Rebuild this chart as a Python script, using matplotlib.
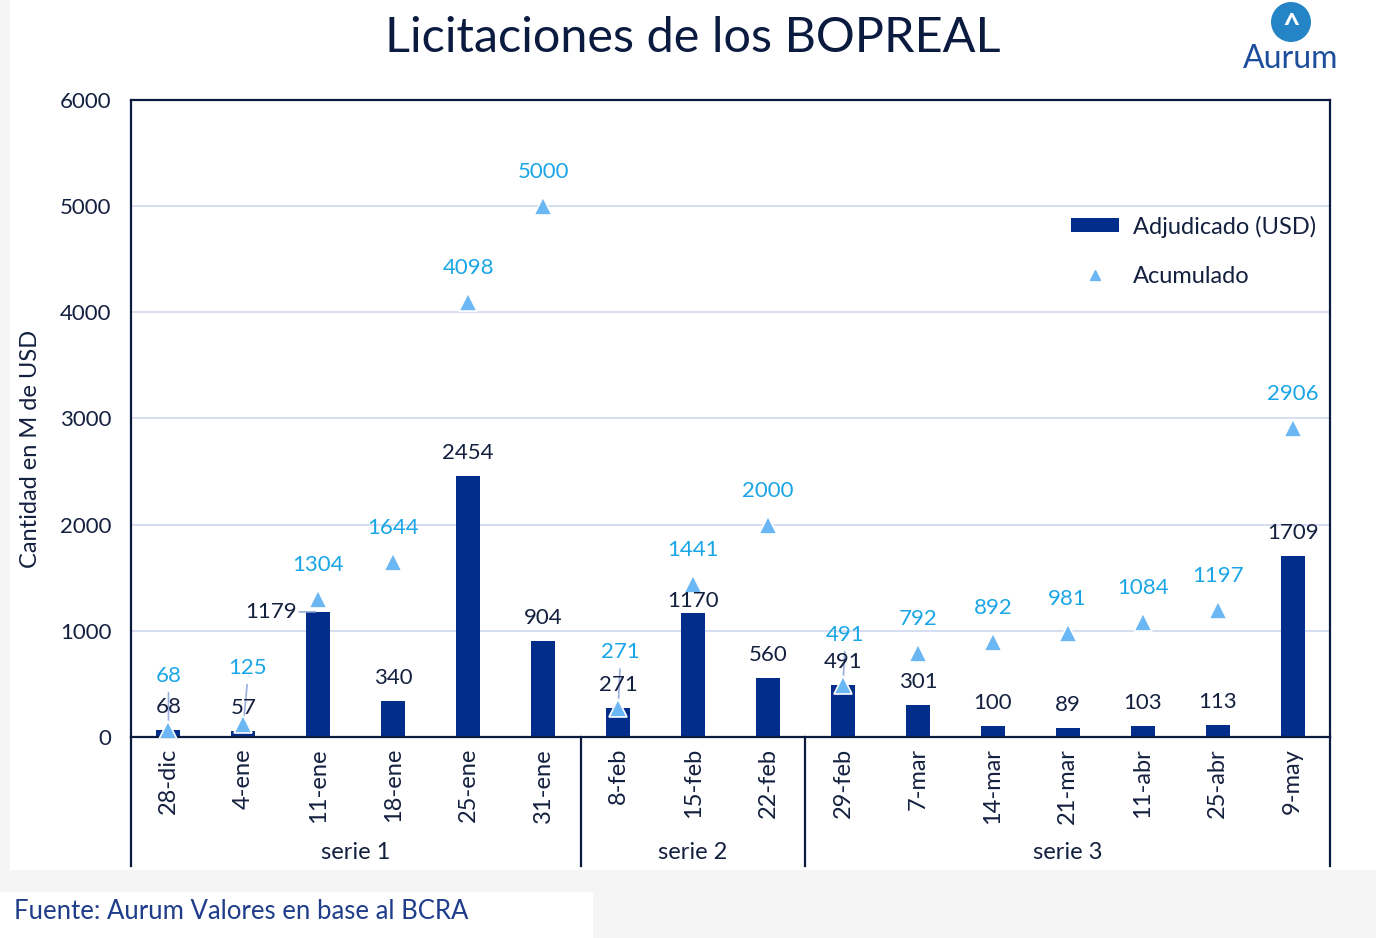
import matplotlib.pyplot as plt
from matplotlib.patches import Rectangle, Ellipse
from matplotlib.lines import Line2D
import numpy as np

plt.rcParams['font.family'] = ['Lato', 'DejaVu Sans']

# data
fechas = ['28-dic', '4-ene', '11-ene', '18-ene', '25-ene', '31-ene',
          '8-feb', '15-feb', '22-feb',
          '29-feb', '7-mar', '14-mar', '21-mar', '11-abr', '25-abr', '9-may']
adjudicado = [68, 57, 1179, 340, 2454, 904, 271, 1170, 560, 491, 301, 100, 89, 103, 113, 1709]
acumulado = [68, 125, 1304, 1644, 4098, 5000, 271, 1441, 2000, 491, 792, 892, 981, 1084, 1197, 2906]
series = ['serie 1', 'serie 2', 'serie 3']
series_len = [6, 3, 7]

# label offsets in pixels (dx, dy), hand placed like the excel original
acum_off = [(0, 54), (4, 56), (0, 34), (0, 34), (0, 34), (0, 34), (2, 56), (0, 34), (0, 34),
            (2, 50), (0, 34), (0, 34), (0, 34), (0, 34), (0, 34), (0, 34)]
adj_off = [(0, 23), (0, 23), (-47, 0), (0, 23), (0, 23), (0, 23), (0, 23), (0, 12), (0, 23),
           (0, 23), (0, 23), (0, 23), (0, 23), (0, 23), (0, 23), (0, 23)]

BAR = '#032d8a'
TRI = '#6bb7f3'
ACUM_TXT = '#1aa6e6'
DARK = '#14203f'
NAVY = '#0b1a3f'

fig = plt.figure(figsize=(13.76, 9.38), dpi=100, facecolor='#f5f5f6')
W, H = 1376, 938
fig.patches.append(Rectangle((10 / W, 1 - 870 / H), 1 - 10 / W, 870 / H,
                             transform=fig.transFigure, facecolor='white', edgecolor='none', zorder=-10))
fig.patches.append(Rectangle((0, 0), 593 / W, 46 / H,
                             transform=fig.transFigure, facecolor='white', edgecolor='none', zorder=-10))

ax = fig.add_axes([131 / W, 1 - 737 / H, 1199 / W, 637 / H])
x = np.arange(len(fechas))

bars = ax.bar(x, adjudicado, width=0.32, color=BAR, zorder=2)
ax.plot(x, acumulado, linestyle='none', marker='^', markersize=13, color=TRI,
        markeredgecolor='white', markeredgewidth=1.2, zorder=3)

px = 0.72
for i in range(len(x)):
    dx, dy = adj_off[i]
    ax.annotate(str(adjudicado[i]), (x[i], adjudicado[i]), xytext=(dx * px, dy * px),
                textcoords='offset points', ha='center', va='center', fontsize=16, color=DARK, zorder=4)
    dx, dy = acum_off[i]
    ax.annotate(str(acumulado[i]), (x[i], acumulado[i]), xytext=(dx * px, dy * px),
                textcoords='offset points', ha='center', va='center', fontsize=16, color=ACUM_TXT, zorder=4)

# leader lines for the crowded labels
for i in [0, 1, 6, 9]:
    dx, dy = acum_off[i]
    ax.annotate('', (x[i], acumulado[i]), xytext=(dx * px, (dy - 14) * px), textcoords='offset points',
                arrowprops=dict(arrowstyle='-', color='#9aaee0', lw=1.2), zorder=2.5)
ax.annotate('', (x[2], adjudicado[2]), xytext=(-22 * px, 0), textcoords='offset points',
            arrowprops=dict(arrowstyle='-', color='#9aaee0', lw=1.2), zorder=2.5)

ax.set_xlim(-0.5, len(x) - 0.5)
ax.set_ylim(0, 6000)
ax.set_yticks(range(0, 6001, 1000))
ax.yaxis.grid(True, color='#d3dbef', lw=1.3, zorder=0)
ax.set_axisbelow(True)
ax.tick_params(axis='y', length=0, pad=14, labelsize=16, labelcolor=DARK)
ax.set_xticks(x)
ax.set_xticklabels(fechas, rotation=90, fontsize=17, color=DARK)
ax.tick_params(axis='x', length=0, pad=8)
for s in ax.spines.values():
    s.set_color(NAVY)
    s.set_linewidth(1.6)

ax.set_ylabel('Cantidad en M de USD', fontsize=17, color=DARK)
ax.yaxis.set_label_coords(-(131 - 41) / 1199, (737 - 449) / 637)

# group separators and labels under the axis
trans = ax.get_xaxis_transform()
bottom = -(866 - 737) / 637
edges = np.concatenate([[0], np.cumsum(series_len)]) - 0.5
for e in edges:
    ax.plot([e, e], [0, bottom], transform=trans, color=NAVY, lw=1.6, clip_on=False)
for k, name in enumerate(series):
    mid = (edges[k] + edges[k + 1]) / 2
    ax.text(mid, -(852 - 737) / 637, name, transform=trans, ha='center', va='center',
            fontsize=17, color=DARK)

tri_handle = Line2D([], [], linestyle='none', marker='^', markersize=7, color=TRI)
ax.legend([bars, tri_handle], ['Adjudicado (USD)', 'Acumulado'],
          loc='upper left', bbox_to_anchor=((1062 - 131) / 1199, (737 - 206) / 637),
          frameon=False, fontsize=17, labelcolor=DARK, handlelength=2.0, handleheight=0.5,
          labelspacing=1.2, handletextpad=0.6, borderaxespad=0)

fig.text(693 / W, 1 - 38 / H, 'Licitaciones de los BOPREAL', ha='center', va='center',
         fontsize=35, color=NAVY)
fig.text(14 / W, 1 - 911 / H, 'Fuente: Aurum Valores en base al BCRA', ha='left', va='center',
         fontsize=18.5, color='#1f3d8a')

# simple logo
fig.patches.append(Ellipse((1291 / W, 1 - 22 / H), 40 / W, 40 / H, transform=fig.transFigure,
                           facecolor='#2584c6', edgecolor='none', zorder=5))
fig.text(1291 / W, 1 - 26 / H, '^', ha='center', va='center', fontsize=22, color='white',
         fontweight='bold', zorder=6)
fig.text(1291 / W, 1 - 59 / H, 'Aurum', ha='center', va='center', fontsize=23, color='#1d4e9c')

fig.savefig('out.png', dpi=100, facecolor=fig.get_facecolor())
